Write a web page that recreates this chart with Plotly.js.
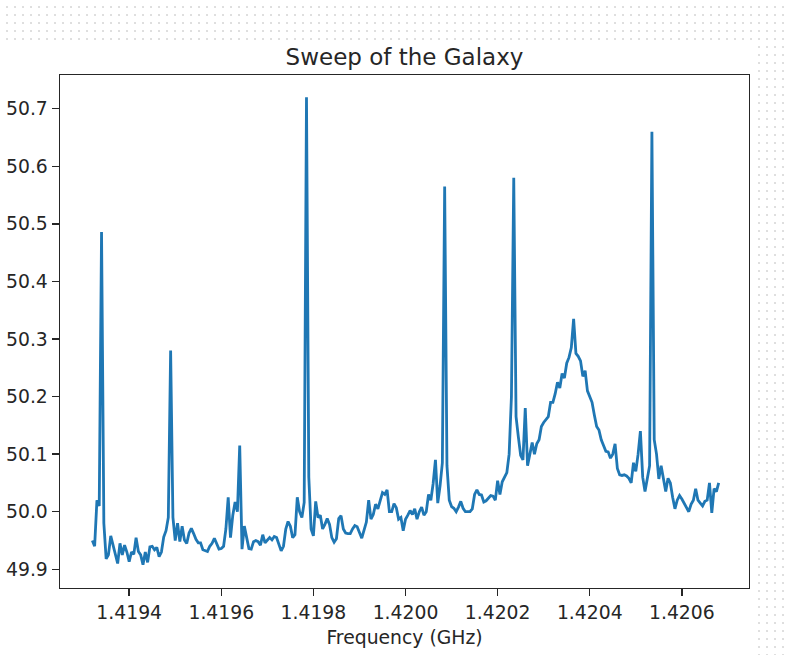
<!DOCTYPE html>
<html>
<head>
<meta charset="utf-8">
<script src="https://cdn.plot.ly/plotly-3.0.1.min.js"></script>
<style>
  html, body { margin: 0; padding: 0; }
  body {
    width: 787px; height: 655px; overflow: hidden; position: relative;
    background-color: #ffffff;
    background-image: radial-gradient(circle, #dedede 0.7px, rgba(255,255,255,0) 1px);
    background-size: 8px 8px;
    background-position: 3px 3px;
  }
  #sheet { position: absolute; left: 0; top: 40px; width: 758px; height: 615px; background: #ffffff; }
  #chart { position: absolute; left: 0; top: 0; width: 787px; height: 655px; }
</style>
</head>
<body>
<div id="sheet"></div>
<div id="chart"></div>
<script>
// Frequency (GHz)
const frequency = [
1.41932,1.419325,1.41933,1.419335,1.41934,1.419345,1.41935,1.419355,1.41936,1.419365,
1.41937,1.419375,1.41938,1.419385,1.41939,1.419395,1.4194,1.419405,1.41941,1.419415,
1.41942,1.419425,1.41943,1.419435,1.41944,1.419445,1.41945,1.419455,1.41946,1.419465,
1.41947,1.419475,1.41948,1.419485,1.41949,1.419495,1.4195,1.419505,1.41951,1.419515,
1.41952,1.419525,1.41953,1.419535,1.41954,1.419545,1.41955,1.419555,1.41956,1.419565,
1.41957,1.419575,1.41958,1.419585,1.41959,1.419595,1.4196,1.419605,1.41961,1.419615,
1.41962,1.419625,1.41963,1.419635,1.41964,1.419645,1.41965,1.419655,1.41966,1.419665,
1.41967,1.419675,1.41968,1.419685,1.41969,1.419695,1.4197,1.419705,1.41971,1.419715,
1.41972,1.419725,1.41973,1.419735,1.41974,1.419745,1.41975,1.419755,1.41976,1.419765,
1.41977,1.419775,1.41978,1.419785,1.41979,1.419795,1.4198,1.419805,1.41981,1.419815,
1.41982,1.419825,1.41983,1.419835,1.41984,1.419845,1.41985,1.419855,1.41986,1.419865,
1.41987,1.419875,1.41988,1.419885,1.41989,1.419895,1.4199,1.419905,1.41991,1.419915,
1.41992,1.419925,1.41993,1.419935,1.41994,1.419945,1.41995,1.419955,1.41996,1.419965,
1.41997,1.419975,1.41998,1.419985,1.41999,1.419995,1.42,1.420005,1.42001,1.420015,
1.42002,1.420025,1.42003,1.420035,1.42004,1.420045,1.42005,1.420055,1.42006,1.420065,
1.42007,1.420075,1.42008,1.420085,1.42009,1.420095,1.4201,1.420105,1.42011,1.420115,
1.42012,1.420125,1.42013,1.420135,1.42014,1.420145,1.42015,1.420155,1.42016,1.420165,
1.42017,1.420175,1.42018,1.420185,1.42019,1.420195,1.4202,1.420205,1.42021,1.420215,
1.42022,1.420225,1.42023,1.420235,1.42024,1.420245,1.42025,1.420255,1.42026,1.420265,
1.42027,1.420275,1.42028,1.420285,1.42029,1.420295,1.4203,1.420305,1.42031,1.420315,
1.42032,1.420325,1.42033,1.420335,1.42034,1.420345,1.42035,1.420355,1.42036,1.420365,
1.42037,1.420375,1.42038,1.420385,1.42039,1.420395,1.4204,1.420405,1.42041,1.420415,
1.42042,1.420425,1.42043,1.420435,1.42044,1.420445,1.42045,1.420455,1.42046,1.420465,
1.42047,1.420475,1.42048,1.420485,1.42049,1.420495,1.4205,1.420505,1.42051,1.420515,
1.42052,1.420525,1.42053,1.420535,1.42054,1.420545,1.42055,1.420555,1.42056,1.420565,
1.42057,1.420575,1.42058,1.420585,1.42059,1.420595,1.4206,1.420605,1.42061,1.420615,
1.42062,1.420625,1.42063,1.420635,1.42064,1.420645,1.42065,1.420655,1.42066,1.420665,
1.42067,1.420675,1.42068
];

const power = [
49.95,49.94,50.02,50.01,50.486,49.98,49.918,49.925,49.958,49.94,
49.928,49.91,49.945,49.925,49.942,49.93,49.913,49.93,49.926,49.955,
49.931,49.925,49.908,49.93,49.912,49.939,49.94,49.934,49.938,49.922,
49.93,49.956,49.967,49.99,50.28,49.99,49.95,49.98,49.948,49.975,
49.951,49.945,49.963,49.971,49.962,49.952,49.946,49.946,49.934,49.932,
49.931,49.94,49.945,49.954,49.945,49.935,49.936,49.94,49.97,50.025,
49.955,49.994,50.017,50.0,50.115,49.935,49.975,49.955,49.936,49.935,
49.948,49.95,49.948,49.942,49.96,49.946,49.951,49.955,49.951,49.957,
49.955,49.945,49.932,49.94,49.97,49.983,49.975,49.955,49.96,50.025,
50.0,49.99,50.016,50.72,50.06,49.97,49.958,50.018,49.99,49.994,
49.97,49.978,49.988,49.978,49.955,49.947,49.953,49.988,49.993,49.97,
49.963,49.962,49.962,49.97,49.976,49.974,49.963,49.954,49.968,49.982,
50.02,49.987,49.995,50.013,50.005,50.018,50.033,50.03,50.038,50.0,
50.0,50.014,50.007,49.987,49.99,49.967,49.987,49.994,50.002,49.995,
50.005,49.987,50.0,50.008,49.994,50.0,50.03,50.02,50.049,50.09,
50.015,50.045,50.085,50.565,50.08,50.02,50.009,50.006,50.0,50.008,
50.018,50.006,50.0,50.0,50.0,50.005,50.03,50.038,50.03,50.029,
50.017,50.019,50.023,50.028,50.027,50.02,50.054,50.03,50.052,50.06,
50.068,50.1,50.2,50.58,50.165,50.13,50.098,50.09,50.18,50.08,
50.098,50.12,50.1,50.118,50.125,50.148,50.155,50.16,50.165,50.19,
50.19,50.205,50.225,50.215,50.24,50.232,50.258,50.268,50.285,50.335,
50.275,50.27,50.262,50.235,50.245,50.21,50.2,50.19,50.168,50.148,
50.142,50.125,50.115,50.105,50.104,50.093,50.1,50.118,50.075,50.064,
50.063,50.064,50.062,50.058,50.05,50.085,50.07,50.1,50.14,50.06,
50.035,50.06,50.08,50.66,50.125,50.1,50.057,50.08,50.06,50.035,
50.058,50.05,50.025,50.005,50.02,50.028,50.022,50.015,50.008,50.0,
50.013,50.02,50.04,50.02,50.015,50.01,50.018,50.02,50.05,49.998,
50.04,50.035,50.05
];

const xTickVals = [1.4194, 1.4196, 1.4198, 1.42, 1.4202, 1.4204, 1.4206];
const xTickText = ['1.4194', '1.4196', '1.4198', '1.4200', '1.4202', '1.4204', '1.4206'];
const yTickVals = [49.9, 50.0, 50.1, 50.2, 50.3, 50.4, 50.5, 50.6, 50.7];
const yTickText = ['49.9', '50.0', '50.1', '50.2', '50.3', '50.4', '50.5', '50.6', '50.7'];

const font = 'DejaVu Sans, sans-serif';

const trace = {
  x: frequency, y: power, type: 'scatter', mode: 'lines',
  line: { color: '#1f77b4', width: 2.8 },
  hoverinfo: 'skip'
};

const axisCommon = {
  showgrid: false, zeroline: false, showline: true, mirror: true,
  linecolor: '#262626', linewidth: 1.4,
  ticks: 'outside', ticklen: 7, tickwidth: 1.4, tickcolor: '#262626',
  tickfont: { family: font, size: 18.8, color: '#262626' }
};

const layout = {
  width: 787, height: 655,
  margin: { l: 60, r: 38, t: 75, b: 67, pad: 0 },
  paper_bgcolor: 'rgba(0,0,0,0)', plot_bgcolor: '#ffffff',
  showlegend: false,
  title: {
    text: 'Sweep of the Galaxy',
    font: { family: font, size: 23, color: '#262626' },
    x: (60 + 749) / 2 / 787, xanchor: 'center',
    xref: 'container', yref: 'container',
    y: 1 - 65 / 655, yanchor: 'bottom'
  },
  xaxis: Object.assign({}, axisCommon, {
    range: [1.4192498, 1.4207458],
    tickmode: 'array', tickvals: xTickVals, ticktext: xTickText,
    title: { text: 'Frequency (GHz)', font: { family: font, size: 18.8, color: '#262626' }, standoff: 9 }
  }),
  yaxis: Object.assign({}, axisCommon, {
    range: [49.8675, 50.7585],
    tickmode: 'array', tickvals: yTickVals, ticktext: yTickText
  })
};

Plotly.newPlot('chart', [trace], layout, { staticPlot: true, displayModeBar: false });
</script>
</body>
</html>
